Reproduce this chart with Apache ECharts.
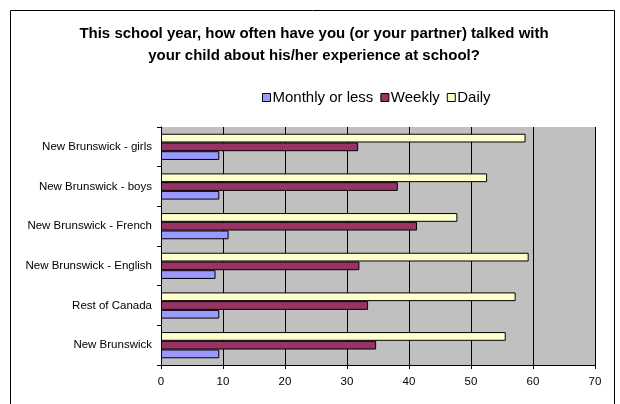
<!DOCTYPE html>
<html>
<head>
<meta charset="utf-8">
<script src="https://cdn.jsdelivr.net/npm/echarts@6/dist/echarts.min.js"></script>
<style>
  html, body { margin: 0; padding: 0; background: #fff; }
  #chart { width: 620px; height: 404px; }
</style>
</head>
<body>
<div id="chart"></div>
<script>
// Regions, listed bottom to top on the category axis
const regions = [
  'New Brunswick',
  'Rest of Canada',
  'New Brunswick - English',
  'New Brunswick - French',
  'New Brunswick - boys',
  'New Brunswick - girls'
];

// Percent of parents, per region
const monthlyOrLess = [9.4, 9.4, 8.8, 10.9, 9.4, 9.4];
const weekly = [34.7, 33.4, 32.0, 41.3, 38.2, 31.8];
const daily = [55.6, 57.2, 59.3, 47.8, 52.6, 58.8];

const seriesNames = ['Monthly or less', 'Weekly', 'Daily'];
const xTicks = [0, 10, 20, 30, 40, 50, 60, 70];

const font = 'Liberation Sans, Arial, sans-serif';

const chart = echarts.init(document.getElementById('chart'), null, { renderer: 'canvas' });

function barSeries(name, data, color) {
  return {
    name: name,
    type: 'bar',
    data: data,
    barGap: '0%',
    barCategoryGap: '34%',
    itemStyle: { color: color, borderColor: '#000', borderWidth: 1 },
    emphasis: { disabled: true }
  };
}

chart.setOption({
  animation: false,
  backgroundColor: '#fff',
  title: {
    text: 'This school year, how often have you (or your partner) talked with\nyour child about his/her experience at school?',
    left: 309,
    textAlign: 'center',
    top: 18,
    textStyle: { fontFamily: font, fontSize: 15, fontWeight: 'bold', color: '#000', lineHeight: 22 }
  },
  legend: {
    data: seriesNames,
    left: 257,
    top: 85,
    itemWidth: 8,
    itemHeight: 8,
    itemGap: 7,
    icon: 'rect',
    textStyle: { fontFamily: font, fontSize: 15, color: '#000', padding: [0, 0, 0, -3] },
    itemStyle: { borderColor: '#000', borderWidth: 1 }
  },
  grid: {
    left: 161, right: 25, top: 127, bottom: 39,
    show: true, backgroundColor: '#c0c0c0', borderWidth: 0
  },
  xAxis: {
    type: 'value',
    min: xTicks[0],
    max: xTicks[xTicks.length - 1],
    interval: 10,
    axisLine: { show: true, lineStyle: { color: '#000', width: 1 } },
    axisTick: { show: true, length: 4, lineStyle: { color: '#000' } },
    axisLabel: { fontFamily: font, fontSize: 11.5, color: '#000', margin: 11 },
    splitLine: { show: true, lineStyle: { color: '#000', width: 1 } }
  },
  yAxis: {
    type: 'category',
    data: regions,
    axisLine: { show: true, lineStyle: { color: '#000', width: 1 } },
    axisTick: { show: true, length: 4, lineStyle: { color: '#000' } },
    axisLabel: { fontFamily: font, fontSize: 11.5, color: '#000', margin: 9 },
    splitLine: { show: false }
  },
  // Stacked top to bottom inside each band: Daily, Weekly, Monthly or less
  series: [
    barSeries(seriesNames[2], daily, '#ffffcc'),
    barSeries(seriesNames[1], weekly, '#993366'),
    barSeries(seriesNames[0], monthlyOrLess, '#9999ff')
  ],
  graphic: [{
    type: 'rect',
    shape: { x: 10.5, y: 10.5, width: 604, height: 400 },
    style: { fill: 'none', stroke: '#000', lineWidth: 1 },
    silent: true
  }]
});
</script>
</body>
</html>
